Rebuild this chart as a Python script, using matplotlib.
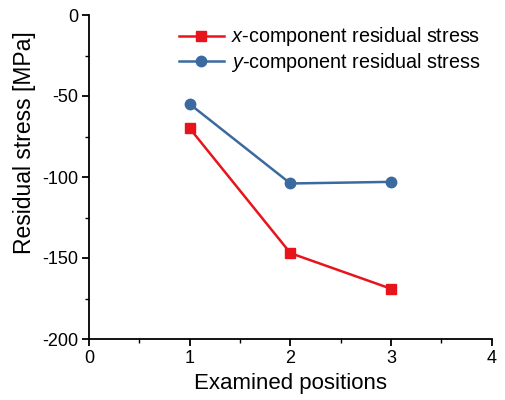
import matplotlib
matplotlib.use("Agg")
import matplotlib.pyplot as plt
from matplotlib.ticker import MultipleLocator

plt.rcParams['font.family'] = ['Liberation Sans', 'DejaVu Sans']
plt.rcParams['mathtext.fontset'] = 'custom'
plt.rcParams['mathtext.it'] = 'Liberation Sans:italic'
plt.rcParams['mathtext.rm'] = 'Liberation Sans'
plt.rcParams['axes.unicode_minus'] = False

positions = [1, 2, 3]
x_stress = [-70, -147, -169]
y_stress = [-55, -104, -103]
x_label = "$x$-component residual stress"
y_label = "$y$-component residual stress"

fig = plt.figure(figsize=(5.06, 4.0), dpi=100)
ax = fig.add_axes([0.176, 0.1525, 0.796, 0.81])

ax.plot(positions, x_stress, color='#e8141c', marker='s', markersize=7, lw=1.8, label=x_label)
ax.plot(positions, y_stress, color='#3b6aa0', marker='o', markersize=7.5, lw=1.8, label=y_label)

ax.set_xlim(0, 4)
ax.set_ylim(-200, 0)
ax.xaxis.set_major_locator(MultipleLocator(1))
ax.xaxis.set_minor_locator(MultipleLocator(0.5))
ax.yaxis.set_major_locator(MultipleLocator(50))
ax.yaxis.set_minor_locator(MultipleLocator(25))
for s in ['top', 'right']:
    ax.spines[s].set_visible(False)
for s in ['left', 'bottom']:
    ax.spines[s].set_linewidth(1.3)
ax.tick_params(which='major', direction='out', length=5, width=1.3, labelsize=13, pad=3)
ax.tick_params(which='minor', direction='out', length=3, width=1.0)

ax.set_xlabel("Examined positions", fontsize=16, labelpad=4)
ax.set_ylabel("Residual stress [MPa]", fontsize=16.5)
ax.yaxis.set_label_coords(-0.131, 0.605)

ax.legend(loc='upper right', bbox_to_anchor=(0.992, 0.992), frameon=False, fontsize=14.2,
          handlelength=2.3, handletextpad=0.37, labelspacing=0.14, borderaxespad=0.0)

fig.savefig("out.png", dpi=100)
